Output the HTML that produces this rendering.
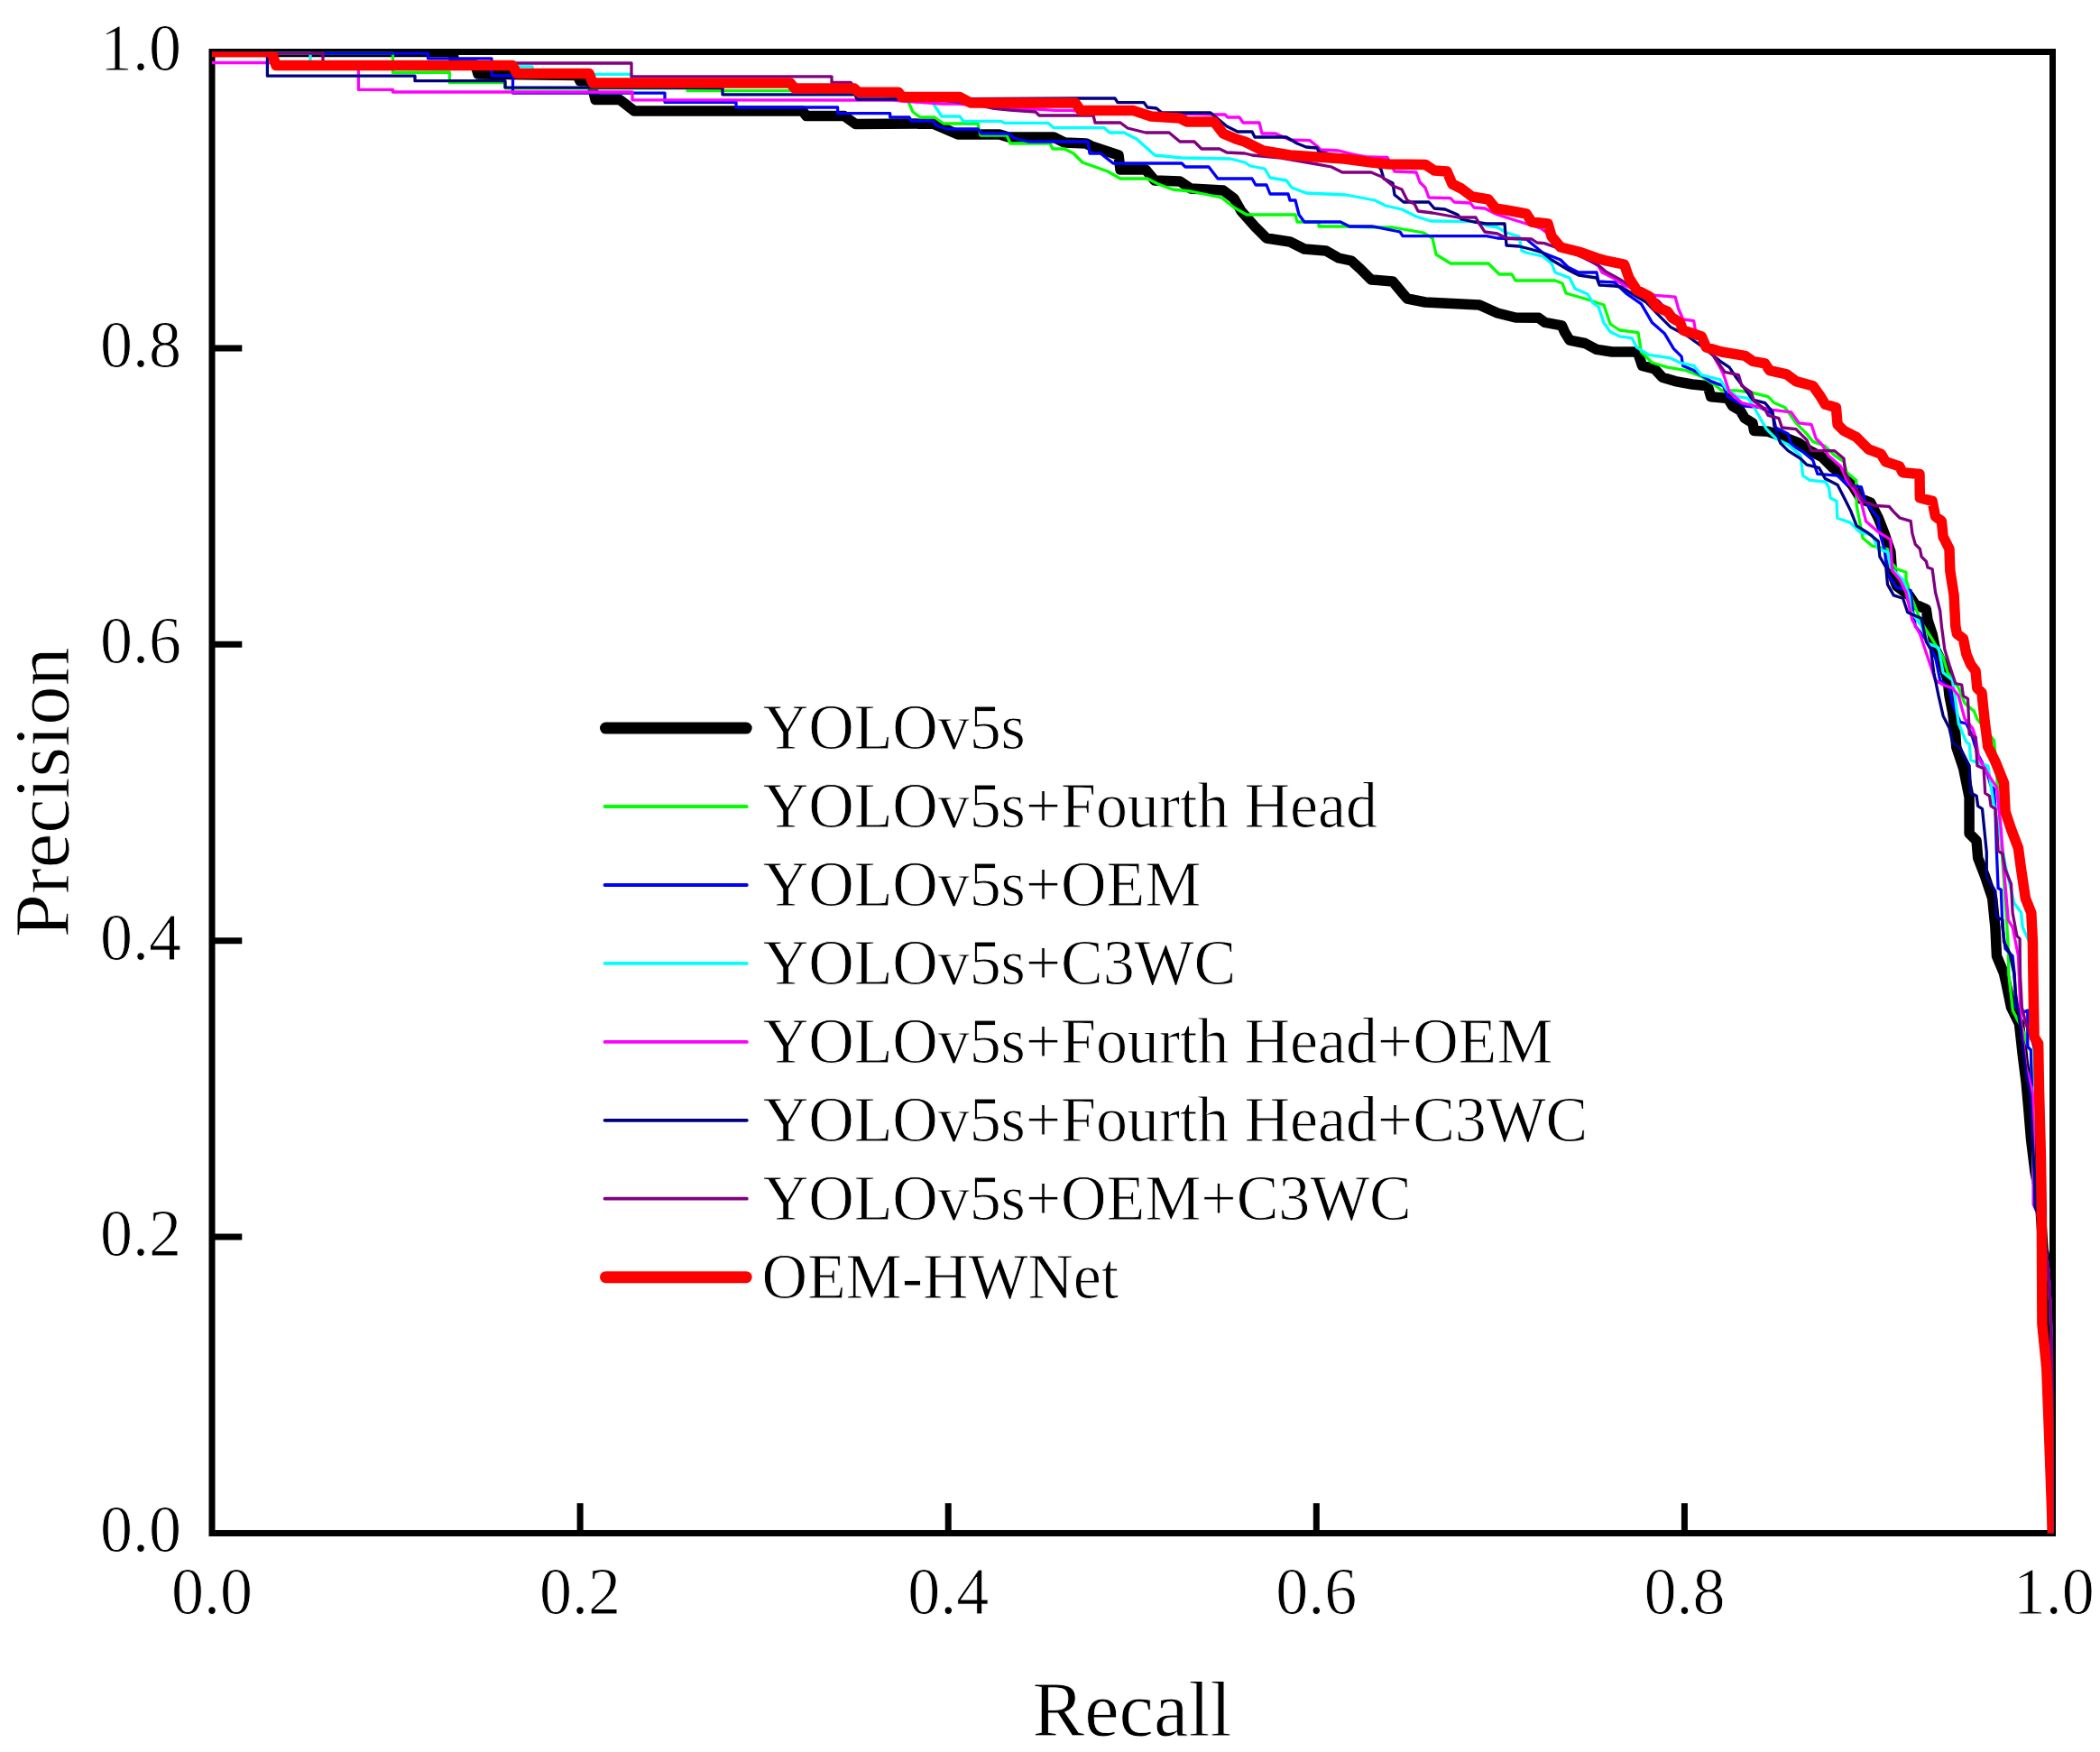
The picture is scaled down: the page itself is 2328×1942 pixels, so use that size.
<!DOCTYPE html>
<html lang="en">
<head>
<meta charset="utf-8">
<title>Precision-Recall curves</title>
<style>
html,body{margin:0;padding:0;background:#fff;}
body{width:2328px;height:1942px;overflow:hidden;}
svg{display:block;}
text{font-family:"Liberation Serif","Times New Roman",serif;fill:#000;stroke:#fff;stroke-width:0.9px;paint-order:fill stroke;}
.tick{font-size:72px;}
.axis{font-size:86.5px;}
.leg{font-size:70px;letter-spacing:-0.1px;}
</style>
</head>
<body>
<svg width="2328" height="1942" viewBox="0 0 2328 1942">
<rect x="0" y="0" width="2328" height="1942" fill="#ffffff"/>
<defs><clipPath id="plot"><rect x="235.0" y="57.5" width="2041.3" height="1645.0"/></clipPath></defs>
<g stroke="#000" stroke-width="7" fill="none" stroke-linecap="butt">
<rect x="235.0" y="57.5" width="2040.5" height="1642.0"/>
<line x1="643.1" y1="1699.5" x2="643.1" y2="1666.2"/>
<line x1="1051.2" y1="1699.5" x2="1051.2" y2="1666.2"/>
<line x1="1459.3" y1="1699.5" x2="1459.3" y2="1666.2"/>
<line x1="1867.4" y1="1699.5" x2="1867.4" y2="1666.2"/>
<line x1="235.0" y1="1371.1" x2="268.3" y2="1371.1"/>
<line x1="235.0" y1="1042.7" x2="268.3" y2="1042.7"/>
<line x1="235.0" y1="714.3" x2="268.3" y2="714.3"/>
<line x1="235.0" y1="385.9" x2="268.3" y2="385.9"/>
</g>
<g clip-path="url(#plot)" fill="none" stroke-linejoin="round" stroke-linecap="butt">
<polyline stroke="#000000" stroke-width="11.5" points="235.0,57.5 502.0,57.5 504.0,72.0 527.0,72.0 530.0,82.0 600.0,83.0 640.0,83.4 643.0,89.7 655.0,89.7 660.0,110.5 687.0,110.5 703.0,122.9 889.5,122.9 894.0,128.6 936.0,128.6 948.6,137.6 1034.0,137.0 1062.0,149.0 1108.0,149.0 1118.0,152.0 1168.0,152.0 1180.0,158.0 1204.0,159.0 1210.0,162.0 1240.0,172.0 1242.0,188.0 1270.0,188.0 1280.0,200.0 1308.0,201.0 1320.0,209.0 1356.0,211.0 1368.0,220.0 1376.0,234.0 1391.0,251.0 1404.0,264.0 1430.0,268.0 1446.0,276.0 1470.0,278.0 1484.0,286.0 1498.0,289.0 1508.0,298.0 1520.0,310.0 1544.0,312.0 1554.0,324.0 1560.0,331.0 1580.0,335.0 1640.0,338.0 1660.0,347.0 1680.0,352.0 1705.7,352.3 1712.6,357.4 1731.4,360.8 1734.8,368.6 1740.0,377.1 1757.1,380.5 1770.0,387.4 1787.1,390.0 1815.4,390.0 1820.5,405.4 1834.2,408.8 1842.8,418.2 1857.1,422.6 1876.0,426.0 1893.1,427.7 1896.6,439.7 1915.4,441.4 1920.6,450.0 1929.1,455.1 1934.3,463.7 1942.9,468.9 1944.6,477.4 1960.0,478.3 1977.1,484.3 1994.3,491.1 2006.3,499.7 2020.0,506.6 2032.0,518.6 2044.0,527.1 2054.3,539.1 2062.9,552.9 2073.6,557.1 2082.2,574.2 2089.0,591.4 2095.9,611.9 2097.6,635.9 2102.7,649.6 2116.4,659.9 2123.3,670.1 2135.3,675.3 2137.0,687.3 2142.1,702.7 2145.5,719.8 2154.1,736.9 2159.2,754.0 2161.0,771.2 2164.4,788.3 2167.8,814.0 2168.7,828.0 2176.7,852.0 2183.1,883.9 2183.1,923.9 2191.1,931.9 2192.7,951.0 2200.7,971.8 2208.7,995.8 2211.9,1027.8 2213.5,1059.7 2221.5,1078.9 2224.0,1090.0 2229.5,1116.5 2238.5,1134.8 2242.5,1171.3 2246.0,1198.7 2248.5,1226.1 2251.5,1262.6 2256.0,1299.2 2259.0,1315.0 2262.0,1340.0 2263.5,1362.0 2265.0,1385.0 2268.0,1400.0 2271.0,1440.0 2273.0,1500.0 2275.5,1699.5"/>
<polyline stroke="#00ff00" stroke-width="3.3" points="235.0,59.0 435.5,59.0 435.5,80.4 498.3,80.0 498.3,91.5 560.0,91.5 560.0,97.8 762.0,97.8 762.0,100.6 876.0,100.6 950.0,104.0 1000.0,108.0 1007.0,113.0 1012.0,124.0 1020.0,130.0 1036.0,130.0 1046.0,137.0 1084.0,137.0 1087.0,150.0 1116.0,150.0 1120.0,159.0 1164.0,159.0 1167.0,165.0 1180.0,165.0 1190.0,170.0 1200.0,180.0 1228.0,190.0 1242.0,198.0 1272.0,198.0 1284.0,204.0 1300.0,210.0 1320.0,212.0 1354.0,219.0 1368.0,230.0 1382.0,238.0 1436.0,238.0 1438.0,246.0 1462.0,246.0 1462.0,251.0 1492.0,251.0 1526.0,252.0 1544.0,252.0 1578.0,258.0 1588.0,264.0 1592.0,282.0 1608.0,292.0 1650.0,292.0 1662.0,304.0 1676.0,304.0 1680.0,311.0 1724.0,311.0 1732.0,314.0 1736.0,325.0 1760.0,332.0 1778.0,338.0 1782.0,350.0 1785.0,359.0 1795.4,366.0 1816.0,368.6 1819.4,390.0 1831.4,402.0 1848.6,407.1 1869.1,410.6 1886.3,417.4 1900.0,426.0 1908.6,432.9 1925.7,432.9 1942.9,435.4 1960.0,439.7 1966.9,446.6 1978.9,451.7 1990.9,468.9 2002.9,480.9 2009.7,489.4 2023.4,494.6 2033.7,504.9 2044.0,511.7 2047.4,523.7 2057.7,532.3 2058.2,560.5 2065.1,596.5 2075.3,605.1 2092.5,608.5 2094.2,620.5 2102.7,630.8 2113.0,634.2 2113.0,642.7 2120.0,665.0 2130.0,690.0 2140.4,706.1 2154.1,728.4 2159.2,745.5 2171.2,762.6 2178.1,779.7 2188.4,788.3 2191.8,796.9 2210.6,820.8 2212.3,840.0 2215.0,880.0 2217.5,919.0 2221.0,970.0 2224.7,1023.0 2226.3,1052.0 2226.8,1080.0 2231.3,1120.0 2236.8,1131.0 2242.0,1140.0 2247.8,1160.0 2251.4,1164.0 2252.5,1207.9 2253.5,1262.0 2255.3,1300.0 2256.0,1337.0 2259.0,1345.0 2263.0,1370.0 2268.0,1386.0 2271.0,1410.0 2273.0,1450.0 2274.5,1500.0 2275.5,1699.5"/>
<polyline stroke="#0000ff" stroke-width="3.3" points="235.0,59.0 474.5,59.0 474.5,64.8 545.0,64.8 545.0,83.8 568.5,83.8 568.5,103.2 737.0,103.2 737.0,113.3 816.0,113.3 816.0,119.0 928.6,119.0 928.6,125.7 986.7,125.7 986.7,130.0 1008.0,130.0 1010.0,134.0 1034.0,134.0 1038.0,139.0 1050.0,143.0 1084.0,143.0 1088.0,148.0 1118.0,148.0 1124.0,153.0 1140.0,157.0 1206.0,157.0 1208.0,170.0 1220.0,170.0 1234.0,181.0 1310.0,181.0 1314.0,185.0 1340.0,185.0 1350.0,198.0 1388.0,198.0 1392.0,205.0 1404.0,205.0 1408.0,215.0 1428.0,215.0 1430.0,222.0 1436.0,222.0 1440.0,238.0 1446.0,246.0 1486.0,246.0 1496.0,251.0 1522.0,251.0 1552.0,257.0 1555.0,261.6 1648.0,261.6 1660.0,264.0 1692.0,265.0 1710.0,280.0 1730.0,288.0 1738.0,296.0 1750.0,302.0 1770.0,302.0 1772.0,312.0 1790.0,313.0 1802.3,324.9 1819.4,336.9 1831.4,357.4 1845.1,369.4 1855.4,386.6 1864.0,395.1 1865.7,405.4 1877.7,410.6 1896.6,422.6 1910.3,427.7 1915.4,439.7 1934.3,450.0 1951.4,451.7 1965.1,458.6 1968.6,474.0 1982.3,480.9 1985.7,492.9 1999.4,501.4 2009.7,510.0 2014.9,525.4 2037.1,527.1 2047.4,537.4 2063.4,540.0 2068.5,557.1 2082.2,574.2 2084.0,591.4 2089.0,608.5 2092.5,635.9 2102.7,651.3 2118.2,654.7 2119.9,673.6 2123.3,694.1 2137.0,711.2 2145.5,728.4 2150.7,754.0 2161.0,762.6 2164.4,779.7 2172.9,800.3 2179.8,802.0 2186.0,815.0 2192.0,835.0 2200.0,850.0 2203.9,860.0 2207.1,871.1 2210.3,874.3 2211.9,896.7 2213.5,946.3 2215.1,984.6 2218.3,986.2 2219.9,1027.8 2223.1,1051.7 2231.1,1059.7 2233.2,1080.0 2235.0,1116.5 2242.3,1122.0 2247.8,1120.0 2247.8,1160.4 2251.4,1164.0 2252.5,1207.9 2253.5,1262.0 2255.3,1300.0 2256.0,1337.0 2259.0,1345.0 2263.0,1370.0 2268.0,1386.0 2271.0,1410.0 2273.0,1450.0 2274.5,1500.0 2275.5,1699.5"/>
<polyline stroke="#00ffff" stroke-width="3.3" points="235.0,59.0 344.0,59.0 344.0,73.5 590.0,74.0 592.0,82.3 700.0,82.3 700.0,90.0 876.0,92.0 881.0,98.0 947.0,98.0 952.0,102.0 996.0,103.0 1000.0,108.0 1034.0,110.0 1034.0,114.0 1044.0,129.0 1064.0,129.0 1068.0,134.4 1110.0,134.4 1114.0,136.4 1162.0,136.4 1168.0,141.6 1224.0,141.6 1230.0,147.0 1246.0,147.0 1260.0,154.0 1280.0,172.0 1310.0,175.0 1364.0,176.0 1380.0,180.0 1386.0,184.0 1402.0,187.0 1408.0,197.0 1426.0,200.0 1432.0,208.0 1448.0,214.0 1492.0,216.0 1524.0,222.0 1536.0,228.0 1554.0,232.0 1570.0,240.0 1586.0,245.0 1636.0,245.6 1648.0,250.0 1660.0,252.0 1670.0,258.0 1684.0,262.0 1687.0,278.0 1692.0,280.0 1710.0,284.0 1720.0,292.0 1724.0,302.0 1740.0,308.0 1746.0,320.0 1760.0,326.0 1766.0,336.0 1772.0,340.0 1778.0,358.0 1785.1,367.7 1795.4,372.9 1809.1,374.6 1814.3,384.9 1828.0,393.4 1852.0,396.9 1862.3,402.0 1877.7,405.4 1886.3,415.7 1906.9,420.9 1913.7,431.1 1925.7,439.7 1937.7,441.4 1944.6,451.7 1951.4,463.7 1958.3,475.7 1968.6,486.0 1982.3,492.9 1996.0,504.9 1998.6,527.1 2006.3,532.3 2023.4,534.0 2027.4,540.0 2029.1,552.0 2036.0,555.4 2036.8,574.2 2051.4,579.4 2061.6,589.7 2075.3,593.1 2082.2,608.5 2092.5,611.9 2095.9,629.0 2109.6,642.7 2116.4,659.9 2118.2,677.0 2130.1,694.1 2137.0,713.0 2149.0,718.0 2154.1,745.5 2164.4,754.0 2167.8,776.3 2171.2,802.0 2179.8,822.5 2183.1,824.8 2184.7,842.4 2192.7,845.6 2203.9,848.8 2205.5,860.0 2210.0,890.0 2216.7,922.3 2223.1,959.0 2227.9,979.8 2232.7,1000.6 2240.6,1011.8 2242.2,1027.8 2250.0,1045.0 2253.0,1100.0 2254.5,1150.0 2256.0,1200.0 2254.0,1213.0 2254.2,1335.0 2259.0,1345.0 2263.0,1370.0 2268.0,1386.0 2271.0,1410.0 2273.0,1450.0 2274.5,1500.0 2275.5,1699.5"/>
<polyline stroke="#ff00ff" stroke-width="3.3" points="235.0,69.5 397.4,69.5 397.4,99.4 435.5,99.4 435.5,102.0 701.0,102.0 701.0,110.9 990.0,111.0 1000.0,112.0 1044.0,115.0 1060.0,115.0 1100.0,118.0 1170.0,122.4 1188.0,122.4 1200.0,124.0 1344.0,127.0 1358.0,127.0 1361.0,130.0 1374.0,130.0 1378.0,136.0 1396.0,136.0 1399.0,148.0 1414.0,148.0 1430.0,155.0 1452.0,155.6 1460.0,162.0 1464.0,166.0 1484.0,167.0 1500.0,171.0 1516.0,174.0 1538.0,174.4 1542.0,182.0 1546.0,190.0 1570.0,191.0 1574.0,202.0 1580.0,208.0 1584.0,219.0 1608.0,219.6 1612.0,224.0 1630.0,225.0 1634.0,230.0 1646.0,231.0 1660.0,238.0 1676.0,243.0 1692.0,248.0 1708.0,253.0 1720.0,262.0 1730.0,274.0 1750.0,280.0 1772.0,295.0 1776.0,302.0 1788.0,308.0 1800.0,316.0 1815.0,322.0 1834.9,327.4 1857.1,329.1 1860.6,342.0 1865.7,354.0 1877.7,355.7 1879.4,366.0 1890.0,380.0 1900.0,395.0 1910.3,414.0 1917.1,434.6 1930.9,446.6 1951.4,451.7 1965.1,454.3 1985.7,456.9 1994.3,468.9 2008.0,470.6 2013.1,486.0 2020.0,492.9 2026.9,504.9 2040.6,516.9 2047.4,532.3 2053.1,540.0 2063.4,557.1 2068.5,577.7 2082.2,589.7 2095.9,598.2 2097.6,632.5 2106.2,642.7 2113.0,656.4 2119.9,687.3 2128.4,702.7 2137.0,728.4 2145.5,754.0 2154.1,759.2 2164.4,762.6 2171.2,771.2 2178.1,796.9 2186.6,807.1 2190.1,817.4 2193.5,840.0 2205.0,860.0 2213.5,872.7 2218.3,919.1 2221.5,963.8 2226.3,1019.8 2231.1,1027.8 2237.5,1059.7 2239.0,1100.0 2240.5,1133.0 2245.9,1182.3 2253.2,1211.5 2254.2,1262.0 2254.2,1335.0 2259.0,1345.0 2263.0,1370.0 2268.0,1386.0 2271.0,1410.0 2273.0,1450.0 2274.5,1500.0 2275.5,1699.5"/>
<polyline stroke="#000080" stroke-width="3.3" points="235.0,59.0 296.4,59.0 296.4,84.2 460.0,84.2 460.0,89.7 560.0,89.7 560.0,96.9 801.0,97.5 801.0,104.8 948.0,104.8 950.0,110.0 990.0,110.0 1194.0,109.0 1236.0,109.0 1239.0,113.6 1268.0,113.6 1272.0,119.0 1282.0,120.0 1288.0,125.0 1342.0,125.0 1360.0,140.0 1372.0,146.0 1388.0,146.0 1391.0,152.0 1426.0,152.0 1438.0,159.0 1448.0,163.0 1460.0,164.0 1462.0,168.0 1480.0,172.0 1500.0,176.0 1525.0,180.0 1531.0,188.0 1534.0,198.0 1544.0,203.0 1546.0,216.0 1556.0,224.0 1584.0,224.0 1590.0,231.0 1602.0,232.0 1616.0,238.0 1620.0,243.0 1634.0,246.0 1648.0,248.0 1668.0,248.0 1670.0,272.0 1684.0,273.0 1696.0,276.0 1710.0,280.0 1720.0,288.0 1730.0,294.0 1740.0,300.0 1750.0,305.0 1770.0,308.0 1773.0,316.0 1790.0,317.0 1797.0,318.0 1810.0,326.0 1825.0,335.0 1841.7,352.3 1852.0,362.6 1870.0,372.0 1888.0,385.0 1906.9,400.3 1917.1,407.1 1924.0,417.4 1934.3,431.1 1942.9,443.1 1956.6,446.6 1965.1,456.9 1966.9,472.3 1973.7,491.1 1982.3,499.7 1996.0,508.3 2002.9,515.1 2016.6,518.6 2023.4,530.6 2037.1,537.4 2044.5,552.0 2051.4,565.7 2058.2,582.8 2071.9,591.4 2082.2,599.9 2083.9,617.1 2090.8,629.0 2092.5,647.9 2099.3,659.9 2109.6,663.3 2114.7,678.7 2130.1,685.5 2135.3,711.2 2140.4,719.8 2143.8,745.5 2149.0,771.2 2154.1,793.4 2161.0,807.1 2164.4,822.5 2173.5,830.0 2183.1,848.8 2184.7,879.1 2191.1,882.3 2192.7,893.5 2197.5,896.7 2202.3,944.7 2202.3,971.8 2211.9,987.8 2213.5,1016.6 2219.9,1019.8 2221.5,1043.7 2227.9,1056.5 2232.7,1078.9 2234.3,1100.0 2240.0,1140.0 2246.0,1190.0 2250.5,1213.3 2253.0,1262.6 2255.3,1300.0 2256.0,1337.5 2259.0,1345.0 2263.0,1370.0 2268.0,1386.0 2271.0,1410.0 2273.0,1450.0 2274.5,1500.0 2275.5,1699.5"/>
<polyline stroke="#800080" stroke-width="3.3" points="235.0,59.0 358.0,59.0 358.0,70.0 700.0,70.0 700.0,84.8 922.0,84.8 922.0,91.4 943.0,91.4 950.0,100.0 1000.0,106.0 1070.0,114.0 1100.0,120.0 1120.0,122.0 1148.0,124.0 1152.0,128.0 1212.0,128.0 1214.0,136.0 1242.0,136.0 1250.0,142.0 1270.0,147.0 1296.0,147.0 1308.0,157.0 1324.0,157.0 1332.0,165.0 1352.0,165.0 1360.0,169.0 1380.0,170.0 1388.0,172.0 1420.0,175.0 1460.0,182.0 1476.0,185.0 1488.0,191.0 1520.0,191.0 1532.0,196.0 1544.0,206.0 1554.0,210.0 1560.0,222.0 1568.0,226.0 1572.0,234.0 1588.0,236.0 1616.0,241.0 1636.0,241.0 1640.0,248.0 1646.0,257.0 1660.0,259.0 1670.0,264.0 1698.0,265.0 1704.0,269.0 1712.0,269.6 1730.0,276.0 1750.0,283.0 1772.0,294.0 1780.0,300.9 1795.4,309.4 1815.0,322.0 1838.3,333.4 1850.0,346.0 1865.0,362.0 1885.0,374.0 1895.0,388.0 1903.4,400.3 1912.0,412.3 1927.4,415.7 1930.9,427.7 1941.1,434.6 1944.6,444.9 1956.6,453.4 1960.0,460.3 1972.0,463.7 1975.4,474.0 1990.9,475.7 2002.9,487.7 2008.0,499.7 2033.7,499.7 2044.0,508.3 2045.7,523.7 2052.6,537.4 2056.5,540.0 2065.0,555.4 2078.8,560.5 2094.2,561.4 2099.3,567.4 2106.2,574.2 2118.2,577.7 2119.9,591.4 2123.3,603.4 2128.4,608.5 2130.1,617.1 2135.3,622.2 2137.0,629.0 2142.1,630.8 2145.5,656.4 2150.7,677.0 2152.4,694.1 2155.8,719.8 2161.0,736.9 2167.8,757.5 2174.7,759.2 2176.4,771.2 2181.5,774.6 2183.2,814.0 2190.1,817.4 2191.9,848.8 2199.1,852.0 2200.7,879.1 2205.5,882.3 2207.1,893.5 2211.9,896.7 2213.5,915.9 2215.1,943.1 2219.9,946.3 2223.1,963.8 2229.5,979.8 2231.1,1011.8 2235.9,1037.4 2239.1,1040.6 2239.5,1080.0 2241.4,1116.5 2245.9,1134.8 2252.0,1150.0 2256.0,1165.0 2258.0,1208.0 2260.5,1262.0 2261.5,1335.0 2259.0,1345.0 2263.0,1370.0 2268.0,1386.0 2271.0,1410.0 2273.0,1450.0 2274.5,1500.0 2275.5,1699.5"/>
<polyline stroke="#ff0000" stroke-width="11.5" points="235.0,57.5 301.0,57.5 306.0,72.4 568.0,72.4 573.0,81.4 653.0,81.4 657.0,91.9 876.0,91.9 881.0,98.0 947.0,98.0 952.0,102.3 996.0,102.3 1000.0,107.6 1064.0,107.6 1076.0,114.0 1192.0,114.0 1198.0,122.4 1256.0,122.4 1276.0,129.0 1308.0,131.0 1316.0,135.0 1346.0,135.0 1356.0,148.0 1370.0,154.0 1380.0,157.0 1400.0,167.0 1430.0,172.0 1460.0,174.0 1490.0,176.0 1520.0,180.0 1540.0,182.0 1580.0,182.4 1590.0,189.0 1604.0,190.0 1610.0,204.0 1620.0,209.0 1632.0,218.0 1650.0,221.0 1658.0,231.0 1676.0,234.0 1692.0,237.0 1698.0,246.0 1716.0,248.0 1720.0,262.0 1730.0,274.0 1750.0,279.0 1770.0,286.0 1780.0,288.9 1800.6,293.1 1805.7,307.7 1814.3,321.4 1828.0,328.3 1836.6,340.3 1848.6,345.4 1853.7,352.3 1862.3,357.4 1865.7,366.0 1886.3,372.9 1891.4,384.9 1908.6,390.0 1934.3,394.3 1942.9,400.3 1956.6,402.9 1961.7,410.6 1980.6,414.9 1990.9,422.6 2009.7,427.7 2018.3,439.7 2023.4,448.3 2035.4,451.7 2037.1,470.6 2044.0,477.4 2057.7,484.3 2071.4,498.0 2085.1,503.1 2090.3,511.7 2105.7,516.9 2109.1,523.7 2128.0,525.4 2128.4,552.0 2142.1,555.4 2145.5,572.5 2152.4,577.7 2154.1,594.8 2161.0,608.5 2161.8,632.5 2166.1,659.9 2167.8,694.1 2169.5,702.7 2176.4,707.8 2179.8,724.9 2184.9,736.9 2190.1,743.8 2191.8,762.6 2196.9,767.7 2200.3,800.3 2203.8,827.7 2211.9,844.0 2221.5,867.9 2223.1,899.9 2229.5,919.1 2237.4,939.9 2240.6,963.8 2245.4,995.8 2251.8,1011.8 2253.4,1043.7 2254.2,1100.0 2255.1,1149.4 2259.6,1156.7 2260.5,1207.9 2262.4,1280.9 2263.3,1335.7 2263.9,1467.4 2268.7,1515.9 2271.7,1593.6 2275.5,1699.5"/>
</g>
<g class="tick" text-anchor="middle">
<text transform="translate(235.0,1789) scale(1,1.02)">0.0</text>
<text transform="translate(643.1,1789) scale(1,1.02)">0.2</text>
<text transform="translate(1051.2,1789) scale(1,1.02)">0.4</text>
<text transform="translate(1459.3,1789) scale(1,1.02)">0.6</text>
<text transform="translate(1867.4,1789) scale(1,1.02)">0.8</text>
<text transform="translate(2276.7,1789) scale(1,1.02)">1.0</text>
</g>
<g class="tick" text-anchor="end">
<text transform="translate(201,1720.4) scale(1,1.02)">0.0</text>
<text transform="translate(201,1392.0) scale(1,1.02)">0.2</text>
<text transform="translate(201,1063.6) scale(1,1.02)">0.4</text>
<text transform="translate(201,735.2) scale(1,1.02)">0.6</text>
<text transform="translate(201,406.8) scale(1,1.02)">0.8</text>
<text transform="translate(201,78.4) scale(1,1.02)">1.0</text>
</g>
<text class="axis" text-anchor="middle" x="1255" y="1923.5">Recall</text>
<text class="axis" text-anchor="middle" transform="translate(76,878.2) rotate(-90)">Precision</text>
<g stroke-linecap="round" fill="none">
<line x1="671.5" y1="807.1" x2="827.2" y2="807.1" stroke="#000000" stroke-width="13"/>
<line x1="670.5" y1="894.0" x2="827.8" y2="894.0" stroke="#00ff00" stroke-width="3.8"/>
<line x1="670.5" y1="981.0" x2="827.8" y2="981.0" stroke="#0000ff" stroke-width="3.8"/>
<line x1="670.5" y1="1067.9" x2="827.8" y2="1067.9" stroke="#00ffff" stroke-width="3.8"/>
<line x1="670.5" y1="1154.9" x2="827.8" y2="1154.9" stroke="#ff00ff" stroke-width="3.8"/>
<line x1="670.5" y1="1241.8" x2="827.8" y2="1241.8" stroke="#000080" stroke-width="3.8"/>
<line x1="670.5" y1="1328.7" x2="827.8" y2="1328.7" stroke="#800080" stroke-width="3.8"/>
<line x1="671.5" y1="1415.7" x2="827.2" y2="1415.7" stroke="#ff0000" stroke-width="13"/>
</g>
<g class="leg">
<text transform="translate(845.8,830.3) scale(1,1.03)">YOLOv5s</text>
<text transform="translate(845.8,917.2) scale(1,1.03)">YOLOv5s+Fourth Head</text>
<text transform="translate(845.8,1004.2) scale(1,1.03)">YOLOv5s+OEM</text>
<text transform="translate(845.8,1091.1) scale(1,1.03)">YOLOv5s+C3WC</text>
<text transform="translate(845.8,1178.1) scale(1,1.03)">YOLOv5s+Fourth Head+OEM</text>
<text transform="translate(845.8,1265.0) scale(1,1.03)">YOLOv5s+Fourth Head+C3WC</text>
<text transform="translate(845.8,1351.9) scale(1,1.03)">YOLOv5s+OEM+C3WC</text>
<text transform="translate(844.5,1438.9) scale(1,1.03)">OEM-HWNet</text>
</g>
</svg>
</body>
</html>
